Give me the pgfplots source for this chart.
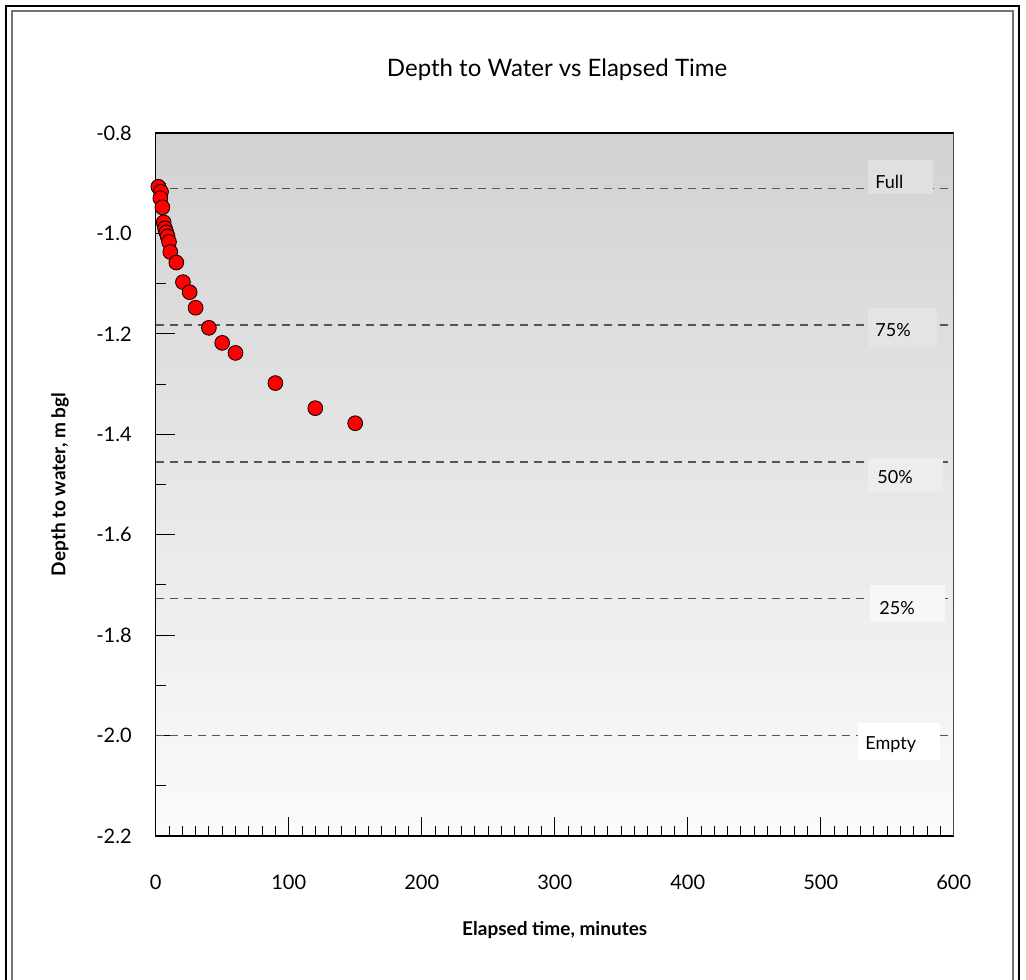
\documentclass[border=0pt]{standalone}
\usepackage{fontspec}
\setmainfont{Lato}
\usepackage{pgfplots}
\pgfplotsset{compat=1.18}
\definecolor{bgtop}{RGB}{210,210,210}
\definecolor{bgbot}{RGB}{251,251,251}
\definecolor{boxA}{RGB}{224,224,224}
\definecolor{boxB}{RGB}{228,228,228}
\definecolor{boxC}{RGB}{237,237,237}
\definecolor{boxD}{RGB}{247,247,247}
\definecolor{dashc}{RGB}{85,85,85}
\begin{document}
\begin{tikzpicture}
\useasboundingbox (0pt,0pt) rectangle (513pt,489.5pt);
\draw[black,line width=0.6pt] (3pt,-10pt) -- (3pt,486.5pt) -- (509.5pt,486.5pt) -- (509.5pt,-10pt);
\draw[black!55,line width=1pt] (6pt,-10pt) -- (6pt,484pt) -- (506.5pt,484pt) -- (506.5pt,-10pt);
\begin{axis}[
  at={(77.85pt,71.5pt)}, anchor=south west,
  scale only axis, width=399pt, height=351.5pt,
  xmin=0, xmax=600, ymin=-2.2, ymax=-0.8,
  xtick={0,100,200,300,400,500,600},
  ytick={-2.2,-2.0,-1.8,-1.6,-1.4,-1.2,-1.0,-0.8},
  minor x tick num=9, minor y tick num=1,
  tick align=inside, xtick pos=bottom, ytick pos=left,
  major tick length=9.5pt, minor tick length=5pt,
  tick style={black, line width=0.5pt},
  axis line style={black, line width=0.7pt},
  /pgf/number format/assume math mode=true,
  yticklabel={\pgfmathprintnumber[fixed,fixed zerofill,precision=1]{\tick}},
  xticklabel={\pgfmathprintnumber[fixed,precision=0]{\tick}},
  ticklabel style={font=\fontsize{10}{12}\selectfont},
  yticklabel style={xshift=-8.5pt},
  xticklabel style={yshift=-16pt},
  axis background/.style={top color=bgtop, bottom color=bgbot},
  title={Depth to Water vs Elapsed Time},
  title style={at={(axis description cs:0.503,1.094)}, anchor=center, yshift=-7.5pt, font=\fontsize{12}{14}\selectfont},
  xlabel={Elapsed time, minutes},
  xlabel style={at={(axis description cs:0.5,-0.1337)}, anchor=center, font=\bfseries\fontsize{9.5}{11}\selectfont},
  ylabel={Depth to water, m bgl},
  ylabel style={at={(axis description cs:-0.12,0.5)}, anchor=center, font=\bfseries\fontsize{9.5}{11}\selectfont},
]
\addplot[dashc, line width=0.6pt, dash pattern=on 4pt off 3pt, forget plot] coordinates {(0,-0.91) (600,-0.91)};
\addplot[dashc, line width=0.6pt, dash pattern=on 4pt off 3pt, forget plot] coordinates {(0,-1.1825) (600,-1.1825)};
\addplot[dashc, line width=0.6pt, dash pattern=on 4pt off 3pt, forget plot] coordinates {(0,-1.455) (600,-1.455)};
\addplot[dashc, line width=0.6pt, dash pattern=on 4pt off 3pt, forget plot] coordinates {(0,-1.7275) (600,-1.7275)};
\addplot[dashc, line width=0.6pt, dash pattern=on 4pt off 3pt, forget plot] coordinates {(0,-2.0) (600,-2.0)};
\addplot[only marks, mark=*, mark size=3.7pt, mark options={fill=red, draw=black, line width=0.4pt}] coordinates {
(2,-0.907) (4,-0.917) (3.5,-0.930) (5,-0.948) (6,-0.978) (7,-0.990) (8,-0.998) (9,-1.006) (10,-1.017) (11,-1.037)
(15.5,-1.058) (20.5,-1.097) (25.5,-1.117) (30,-1.148) (40,-1.188) (50,-1.218) (60,-1.238) (90,-1.298) (120,-1.348) (150,-1.378)
};
\draw[black!55, line width=1pt] (rel axis cs:1,0) -- (rel axis cs:1,1);
\end{axis}
\fill[boxA] (434pt,409.5pt) rectangle (466.5pt,392.5pt);
\node[anchor=west, inner sep=0pt, font=\fontsize{9}{11}\selectfont] at (437.5pt,398.5pt) {Full};
\fill[boxB] (434pt,335.5pt) rectangle (468.5pt,316pt);
\node[anchor=west, inner sep=0pt, font=\fontsize{9}{11}\selectfont] at (437.5pt,324.5pt) {75\%};
\fill[boxC] (434pt,260.5pt) rectangle (471.5pt,243.5pt);
\node[anchor=west, inner sep=0pt, font=\fontsize{9}{11}\selectfont] at (438.5pt,251pt) {50\%};
\fill[boxD] (435pt,197pt) rectangle (472.5pt,178.5pt);
\node[anchor=west, inner sep=0pt, font=\fontsize{9}{11}\selectfont] at (439.5pt,185.5pt) {25\%};
\fill[white] (429pt,128pt) rectangle (470pt,109.5pt);
\node[anchor=west, inner sep=0pt, font=\fontsize{9}{11}\selectfont] at (432.5pt,117pt) {Empty};
\end{tikzpicture}
\end{document}
